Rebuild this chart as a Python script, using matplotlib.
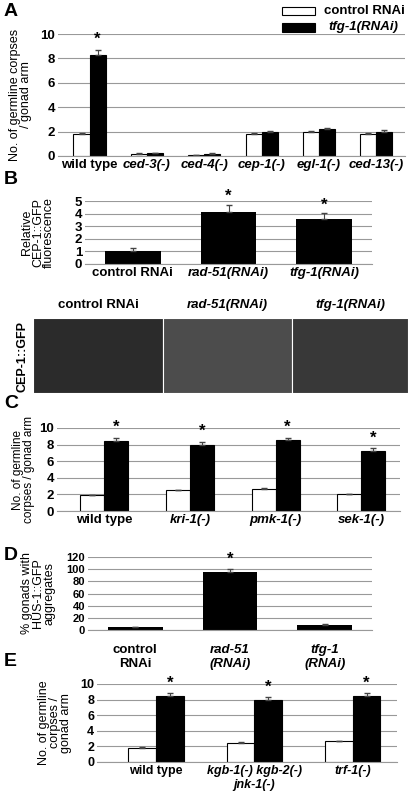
import numpy as np
import matplotlib.pyplot as plt
from matplotlib.patches import Rectangle

W, H = 413, 800

# Panel A
a_cats = ['wild type', 'ced-3(-)', 'ced-4(-)', 'cep-1(-)', 'egl-1(-)', 'ced-13(-)']
a_ctrl = [1.8, 0.2, 0.1, 1.8, 2.0, 1.8]
a_ctrl_err = [0.08, 0.02, 0.02, 0.08, 0.08, 0.08]
a_tfg = [8.25, 0.25, 0.2, 1.95, 2.2, 2.0]
a_tfg_err = [0.4, 0.03, 0.03, 0.08, 0.1, 0.12]
a_star = [True, False, False, False, False, False]

# Panel B
b_cats = ['control RNAi', 'rad-51(RNAi)', 'tfg-1(RNAi)']
b_vals = [1.0, 4.15, 3.6]
b_err = [0.25, 0.55, 0.45]
b_star = [False, True, True]

# Panel C
c_cats = ['wild type', 'kri-1(-)', 'pmk-1(-)', 'sek-1(-)']
c_ctrl = [1.9, 2.5, 2.65, 2.0]
c_ctrl_err = [0.05, 0.08, 0.08, 0.08]
c_tfg = [8.45, 8.0, 8.5, 7.25]
c_tfg_err = [0.4, 0.35, 0.35, 0.35]

# Panel D
d_cats = ['control\nRNAi', 'rad-51\n(RNAi)', 'tfg-1\n(RNAi)']
d_vals = [5, 96, 9]
d_err = [0.5, 4, 1]
d_star = [False, True, False]

# Panel E
e_cats = ['wild type', 'kgb-1(-) kgb-2(-)\njnk-1(-)', 'trf-1(-)']
e_ctrl = [1.85, 2.45, 2.65]
e_ctrl_err = [0.05, 0.08, 0.08]
e_tfg = [8.45, 8.0, 8.5]
e_tfg_err = [0.4, 0.35, 0.35]

img_titles = ['control RNAi', 'rad-51(RNAi)', 'tfg-1(RNAi)']
img_gray = [0.17, 0.3, 0.22]

plt.rcParams['font.family'] = 'Liberation Sans'
plt.rcParams['font.weight'] = 'bold'

fig = plt.figure(figsize=(W / 100, H / 100), dpi=100)
ekw = dict(ecolor='#444444', lw=0.8, capsize=2)


def box(l, t, r, b):
    return fig.add_axes([l / W, 1 - b / H, (r - l) / W, (b - t) / H])


def up(err):
    return [np.zeros(len(err)), err]


def style(ax, ymax, step, labels, fs=9.5):
    ax.set_ylim(0, ymax)
    ax.set_yticks(np.arange(0, ymax + 0.01, step))
    ax.yaxis.grid(True, color='#999999', lw=0.8)
    ax.set_axisbelow(True)
    for s in ['top', 'right', 'left']:
        ax.spines[s].set_visible(False)
    ax.spines['bottom'].set_color('#999999')
    ax.tick_params(length=0, labelsize=fs, pad=2)
    ax.set_xticks(range(len(labels)))
    ax.set_xticklabels(labels, fontsize=fs)
    for i, t in enumerate(ax.get_xticklabels()):
        if labels[i] not in ('wild type', 'control RNAi', 'control\nRNAi'):
            t.set_style('italic')


def paired(ax, ctrl, cerr, tfg, terr, stars, ymax):
    x = np.arange(len(ctrl))
    w = 0.28
    ax.bar(x - w / 2, ctrl, w, color='white', edgecolor='black', lw=0.8,
           yerr=up(cerr), error_kw=ekw)
    ax.bar(x + w / 2, tfg, w, color='black', edgecolor='black', lw=0.8,
           yerr=up(terr), error_kw=ekw)
    for i, s in enumerate(stars):
        if s:
            ax.text(x[i] + w / 2, tfg[i] + terr[i] + ymax * 0.03, '*',
                    ha='center', va='bottom', fontsize=12)


# A
ax = box(58, 34, 405, 156)
paired(ax, a_ctrl, a_ctrl_err, a_tfg, a_tfg_err, a_star, 10)
style(ax, 10, 2, a_cats)
ax.set_xlim(-0.55, 5.5)
ax.set_ylabel('No. of germline corpses\n/ gonad arm', fontsize=9, labelpad=6, linespacing=0.9)
fig.patches.append(Rectangle((282 / W, 1 - 15 / H), 33 / W, 8 / H, transform=fig.transFigure,
                             facecolor='white', edgecolor='black', lw=0.8))
fig.patches.append(Rectangle((282 / W, 1 - 32 / H), 33 / W, 9 / H, transform=fig.transFigure,
                             facecolor='black', edgecolor='black', lw=0.8))
fig.text(324 / W, 1 - 11 / H, 'control RNAi', fontsize=9.5, va='center')
fig.text(328 / W, 1 - 27 / H, 'tfg-1(RNAi)', fontsize=9.5, va='center', style='italic')

# B
ax = box(85, 201, 372, 264)
x = np.arange(len(b_vals))
ax.bar(x, b_vals, 0.58, color='black', yerr=up(b_err), error_kw=ekw)
for i, s in enumerate(b_star):
    if s:
        ax.text(x[i], b_vals[i] + b_err[i] + 0.05, '*', ha='center', va='bottom', fontsize=12)
style(ax, 5, 1, b_cats)
ax.set_xlim(-0.5, 2.5)
ax.set_ylabel('Relative\nCEP-1::GFP\nfluorescence', fontsize=9, labelpad=14, linespacing=0.9)

# images
edges = [33, 163, 292, 408]
for i in range(3):
    ax = box(edges[i], 318, edges[i + 1], 393)
    ax.imshow(np.full((10, 30), img_gray[i]), cmap='gray', vmin=0, vmax=1, aspect='auto')
    ax.set_xticks([])
    ax.set_yticks([])
    for s in ax.spines.values():
        s.set_color('white')
    fig.text((edges[i] + edges[i + 1]) / 2 / W, 1 - 305 / H, img_titles[i], fontsize=9.5,
             ha='center', va='center', style='normal' if i == 0 else 'italic')
fig.text(22 / W, 1 - 356 / H, 'CEP-1::GFP', fontsize=9, rotation=90, ha='center', va='center')

# C
ax = box(57, 428, 400, 511)
paired(ax, c_ctrl, c_ctrl_err, c_tfg, c_tfg_err, [True] * 4, 10)
style(ax, 10, 2, c_cats)
ax.set_xlim(-0.55, 3.45)
ax.set_ylabel('No. of germline\ncorpses / gonad arm', fontsize=8.5, labelpad=3, linespacing=0.9)

# D
ax = box(88, 557, 372, 630)
x = np.arange(len(d_vals))
ax.bar(x, d_vals, 0.58, color='black', yerr=up(d_err), error_kw=ekw)
for i, s in enumerate(d_star):
    if s:
        ax.text(x[i], d_vals[i] + d_err[i] + 4, '*', ha='center', va='bottom', fontsize=12)
style(ax, 120, 20, d_cats)
ax.tick_params(axis='x', pad=10)
ax.tick_params(axis='y', labelsize=8)
ax.set_xlim(-0.5, 2.5)
ax.set_ylabel('% gonads with\nHUS-1::GFP\naggregates', fontsize=9, labelpad=8, linespacing=0.9)

# E
ax = box(97, 684, 397, 762)
paired(ax, e_ctrl, e_ctrl_err, e_tfg, e_tfg_err, [True] * 3, 10)
style(ax, 10, 2, e_cats, fs=9)
ax.set_xlim(-0.6, 2.45)
ax.set_ylabel('No. of germline\ncorpses /\ngonad arm', fontsize=9, labelpad=6, linespacing=0.9)

for letter, y in zip('ABCDE', [12, 180, 404, 555, 662]):
    fig.text(4 / W, 1 - y / H, letter, fontsize=14, va='center')

fig.savefig('out.png', dpi=100)
